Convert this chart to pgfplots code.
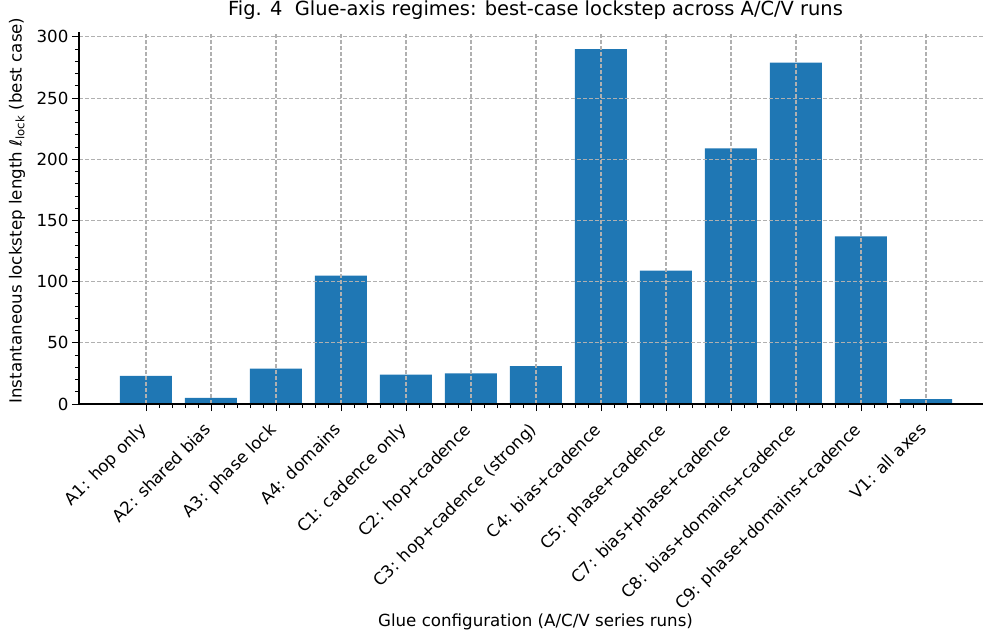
\documentclass[border=0pt]{standalone}
\usepackage{fontspec}
\setmainfont{DejaVu Sans}
\usepackage{pgfplots}
\pgfplotsset{compat=1.18}
\definecolor{barblue}{HTML}{1F77B4}
\definecolor{gridgray}{HTML}{B0B0B0}
\begin{document}
\begin{tikzpicture}
\begin{axis}[
  at={(0,0)}, anchor=south west,
  scale only axis,
  width=904pt, height=372pt,
  xmin=-1.03, xmax=12.877,
  ymin=0, ymax=304,
  axis lines*=left,
  axis on top,
  xtick={0,...,12},
  xticklabels={A1: hop only, A2: shared bias, A3: phase lock, A4: domains, C1: cadence only, C2: hop+cadence, C3: hop+cadence (strong), C4: bias+cadence, C5: phase+cadence, C7: bias+phase+cadence, C8: bias+domains+cadence, C9: phase+domains+cadence, V1: all axes},
  xticklabel style={rotate=45, anchor=north east, font=\fontsize{16.67}{18}\selectfont, inner sep=1pt, xshift=-12pt, yshift=-1pt},
  ytick={0,50,...,300},
  yticklabel style={font=\fontsize{16.67}{18}\selectfont},
  minor x tick num=4,
  minor y tick num=4,
  tick align=outside,
  major tick length=7pt,
  minor tick length=4pt,
  every tick/.style={black, line width=0.8pt},
  axis line style={black, line width=1.1pt},
  xmajorgrids, ymajorgrids,
  major grid style={gridgray, line width=1.1pt, dash pattern=on 4pt off 2pt},
  /pgf/number format/assume math mode=true,
  title={Fig. 4\ \ Glue-axis regimes: best-case lockstep across A/C/V runs},
  title style={font=\fontsize{19.44}{22}\selectfont, at={(axis description cs:0.505,1)}, anchor=base, yshift=11pt},
  xlabel={Glue configuration (A/C/V series runs)},
  xlabel style={font=\fontsize{16.67}{18}\selectfont, at={(axis description cs:0.505,0)}, anchor=base, yshift=-222pt},
  ylabel={Instantaneous lockstep length \textit{ℓ}\textsubscript{lock} (best case)},
  ylabel style={font=\fontsize{16.67}{18}\selectfont, at={(axis description cs:-0.0686,0.52)}, anchor=center},
]
\addplot[ybar, bar width=0.8, fill=barblue, draw=none, bar shift=0pt] coordinates {
  (0,23) (1,5) (2,29) (3,105) (4,24) (5,25) (6,31) (7,290) (8,109) (9,209) (10,279) (11,137) (12,4)
};
\end{axis}
\pgfresetboundingbox
\path[use as bounding box] (-79pt,-226pt) rectangle (904pt,404pt);
\end{tikzpicture}
\end{document}
